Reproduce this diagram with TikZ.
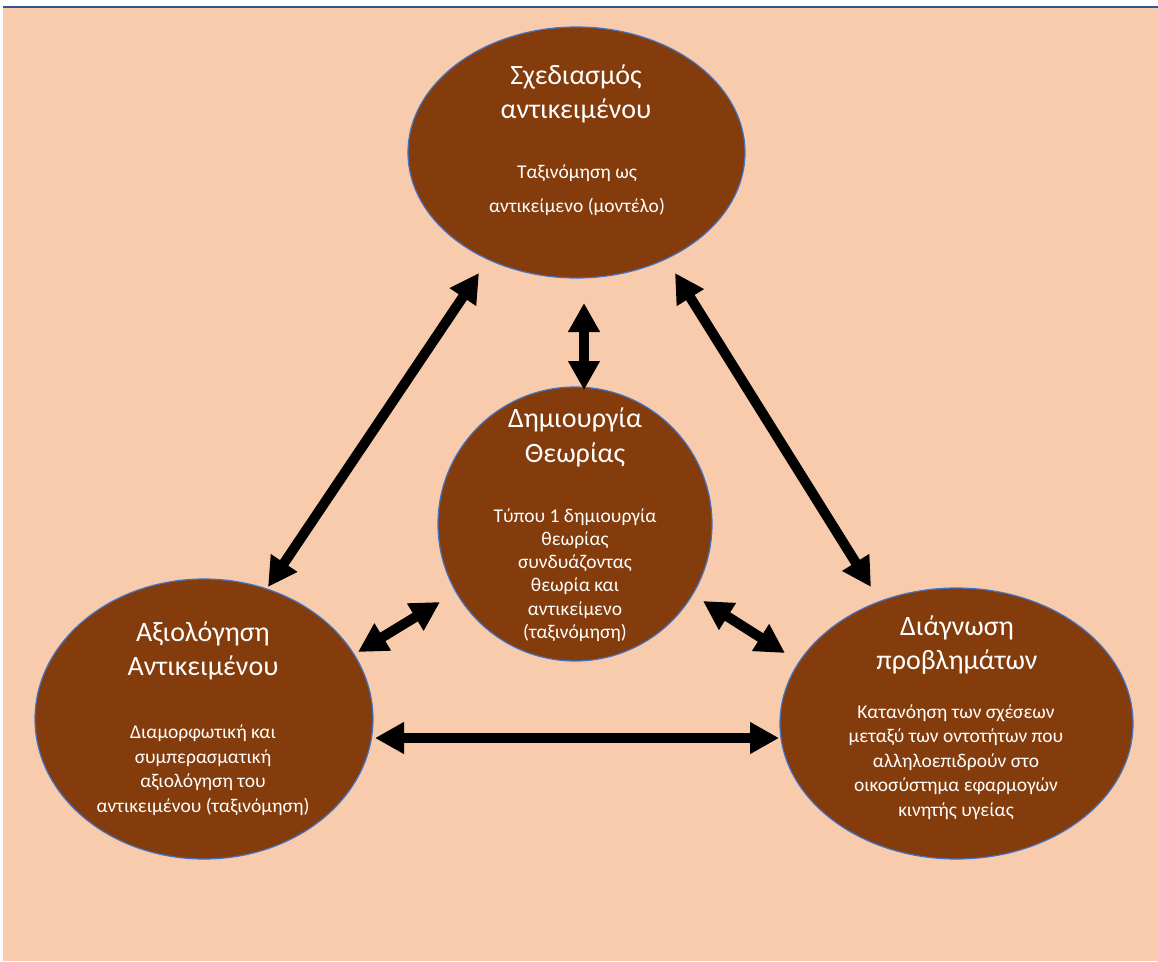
\documentclass[tikz,border=0pt]{standalone}
\usepackage{fontspec}
\setmainfont{Carlito}
\usetikzlibrary{arrows.meta,shapes.geometric}
\definecolor{peach}{HTML}{F8CBAD}
\definecolor{bark}{HTML}{843C0C}
\definecolor{rim}{HTML}{4472C4}
\definecolor{topline}{HTML}{2F5597}
\begin{document}
\begin{tikzpicture}[x=1pt,y=-1pt,
  blob/.style={ellipse, fill=bark, draw=rim, line width=1.2pt, inner sep=0pt, outer sep=0pt},
  headtxt/.style={text=white, align=center, font=\fontsize{28}{34}\selectfont},
  bodytxt/.style={text=white, align=center, font=\fontsize{19.5}{24.5}\selectfont},
  link/.style={line width=10pt, {Triangle[length=29pt,width=30pt]}-{Triangle[length=29pt,width=30pt]}},
]
\useasboundingbox (0,0) rectangle (1158,961);
% page and top rule
\fill[white] (0,0) rectangle (1158,961);
\fill[peach] (2.7,7) rectangle (1158,961);
\draw[topline, line width=2pt] (2.7,6.5) -- (1158,6.5);

% the four stages
\node[blob, minimum width=337pt, minimum height=251pt] (T) at (576.5,152.5) {};
\node[blob, minimum width=274pt, minimum height=274pt] (C) at (575,524) {};
\node[blob, minimum width=338pt, minimum height=280pt] (L) at (204,719) {};
\node[blob, minimum width=353pt, minimum height=271pt] (R) at (956.5,723.5) {};

% labels
\node[headtxt] (Th) at (576,94) {Σχεδιασμός\\αντικειμένου};
\node[bodytxt] (Tb) at (577,190) {Ταξινόμηση ως\\[10pt]αντικείμενο (μοντέλο)};
\node[headtxt, font=\fontsize{28}{35}\selectfont] (Ch) at (575,437) {Δημιουργία\\Θεωρίας};
\node[bodytxt, font=\fontsize{19.5}{23.3}\selectfont] (Cb) at (575,575)
  {Τύπου 1 δημιουργία\\θεωρίας\\συνδυάζοντας\\θεωρία και\\αντικείμενο\\(ταξινόμηση)};
\node[headtxt] (Lh) at (203,651) {Αξιολόγηση\\Αντικειμένου};
\node[bodytxt] (Lb) at (203,770)
  {Διαμορφωτική και\\συμπερασματική\\αξιολόγηση του\\αντικειμένου (ταξινόμηση)};
\node[headtxt] (Rh) at (957,645) {Διάγνωση\\προβλημάτων};
\node[bodytxt] (Rb) at (956,762)
  {Κατανόηση των σχέσεων\\μεταξύ των οντοτήτων που\\αλληλοεπιδρούν στο\\οικοσύστημα εφαρμογών\\κινητής υγείας};

% two-way links, each end placed relative to its stage
\draw[link] ([shift={(-97.5,120.5)}]T.center) -- ([shift={(64,-132)}]L.center);
\draw[link] ([shift={(7.5,150.5)}]T.center) -- ([shift={(9,-134)}]C.center);
\draw[link] ([shift={(98.5,120.5)}]T.center) -- ([shift={(-85.5,-136.5)}]R.center);
\draw[link] ([shift={(-135,78)}]C.center) -- ([shift={(154,-67)}]L.center);
\draw[link] ([shift={(128,77)}]C.center) -- ([shift={(-171.5,-70.5)}]R.center);
\draw[link] ([shift={(171,19)}]L.center) -- ([shift={(-177.5,14.5)}]R.center);
\end{tikzpicture}
\end{document}
